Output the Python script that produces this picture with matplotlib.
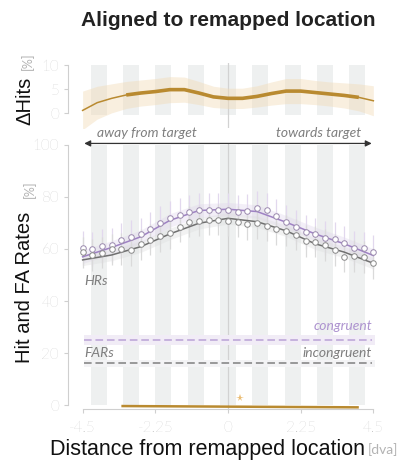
import matplotlib.pyplot as plt
import numpy as np

plt.rcParams['font.family'] = ['Liberation Sans', 'DejaVu Sans']

# sampled positions (dva) of the hit-rate estimates
pos = np.round(np.arange(-4.5, 4.51, 0.3), 2)
hr_cong = [60.3, 59.9, 61.3, 61.5, 63.5, 64.5, 65.6, 67.7, 70.1, 72.0, 73.1,
           74.4, 75.0, 75.0, 75.0, 75.0, 74.4, 74.7, 75.8, 75.0, 72.8, 70.5,
           68.6, 66.4, 65.6, 64.1, 63.8, 62.2, 60.5, 60.2, 58.9]
hr_incong = [58.7, 57.7, 58.6, 59.9, 60.0, 59.6, 61.8, 63.5, 65.0, 66.0, 68.6,
             70.5, 70.9, 71.2, 71.2, 70.9, 70.5, 69.5, 69.9, 69.0, 67.6, 67.1,
             65.5, 63.1, 62.8, 61.5, 59.6, 57.1, 57.3, 56.9, 54.5]
hr_err_cong = 6.5
hr_err_incong = 6.0

# smoothed fits
fit_pos = [-4.5, -3.6, -2.7, -1.8, -0.9, 0.0, 0.9, 1.8, 2.7, 3.6, 4.5]
fit_cong = [57.0, 60.6, 64.7, 71.0, 74.8, 75.3, 74.4, 70.3, 65.8, 62.0, 57.5]
fit_incong = [55.8, 57.7, 60.9, 65.8, 69.9, 71.8, 70.5, 67.0, 62.0, 58.8, 54.5]
fit_ci_cong = 2.6
fit_ci_incong = 2.2

# false alarm rates
far_cong, far_cong_ci = 25.0, 1.8
far_incong, far_incong_ci = 16.0, 1.4

# hit difference (congruent - incongruent)
dh_pos = np.round(np.arange(-4.5, 4.51, 0.45), 2)
dh = [0.6, 2.2, 3.1, 3.8, 4.2, 4.5, 4.9, 4.9, 4.2, 3.4, 3.1,
      3.1, 3.5, 4.1, 4.6, 4.6, 4.3, 4.0, 3.7, 3.3, 2.6]
dh_ci = [4.0, 3.4, 3.0, 2.8, 2.7, 2.7, 2.7, 2.6, 2.4, 2.2, 2.1,
         2.1, 2.2, 2.4, 2.6, 2.6, 2.5, 2.5, 2.6, 2.8, 3.1]
sig_range = (-3.25, 3.85)
far_diff_x = [-3.3, 4.05]
far_diff_y = [-0.4, -0.9]
star_x, star_y = 0.38, 2.8

xticks = [-4.5, -2.25, 0, 2.25, 4.5]
xticklabels = ['-4.5', '-2.25', '0', '2.25', '4.5']

purple = '#9f82c4'
purple_l = '#dfd3ec'
dgray = '#707070'
lgray = '#cfcfcf'
orange = '#b98a30'
stripe = '#eef0f0'
tickc = '#b3b3b3'
light_fam = ['Lato', 'Liberation Sans']

fig = plt.figure(figsize=(4.06, 4.61), dpi=100)
ax_top = fig.add_axes([0.1677, 0.7228, 0.7638, 0.1414])
ax = fig.add_axes([0.1677, 0.1130, 0.7638, 0.5753])
stripes = np.arange(-4, 5)

for a in (ax_top, ax):
    a.set_xlim(-4.95, 4.65)
    a.spines[['top', 'right']].set_visible(False)
    a.spines['left'].set_color(lgray)
    a.spines['left'].set_linewidth(0.8)
    a.tick_params(axis='y', colors=lgray, labelcolor=tickc, labelsize=11, length=3, width=0.8)
    a.axvline(0, color='#d2d2d2', lw=0.9, zorder=1)

# top panel: hit difference
ax_top.bar(stripes, 10.4, width=0.5, bottom=-0.4, color=stripe, zorder=0)
ax_top.set_ylim(-3, 10.5)
ax_top.spines['bottom'].set_visible(False)
ax_top.spines['left'].set_bounds(0, 10)
ax_top.set_yticks([0, 5, 10])
ax_top.set_xticks([])
dh = np.array(dh)
dh_ci = np.array(dh_ci)
ax_top.fill_between(dh_pos, dh - dh_ci, dh + dh_ci, color='#f2dcb8', alpha=0.45, lw=0, zorder=2)
ax_top.plot(dh_pos, dh, color=orange, lw=1.1, zorder=3)
sig = (dh_pos >= sig_range[0] - 0.3) & (dh_pos <= sig_range[1] + 0.3)
ax_top.plot(dh_pos[sig], dh[sig], color=orange, lw=2.6, solid_capstyle='butt', zorder=4)

# main panel: hit and false alarm rates
ax.bar(stripes, 100, width=0.5, bottom=0, color=stripe, zorder=0)
ax.set_ylim(-1.5, 100.5)
ax.spines['left'].set_bounds(0, 100)
ax.spines['bottom'].set_bounds(-4.5, 4.5)
ax.spines['bottom'].set_color(lgray)
ax.spines['bottom'].set_linewidth(0.8)
ax.set_yticks([0, 20, 40, 60, 80, 100])
ax.set_xticks(xticks)
ax.set_xticklabels(xticklabels)
ax.tick_params(axis='x', colors=lgray, labelcolor=tickc, labelsize=11, length=3, width=0.8, pad=6)
for lab in ax.get_xticklabels() + ax.get_yticklabels() + ax_top.get_yticklabels():
    lab.set_family(light_fam)
    lab.set_fontweight('light')

fc = np.array(fit_cong)
fi = np.array(fit_incong)
ax.fill_between(fit_pos, fc - fit_ci_cong, fc + fit_ci_cong, color=purple_l, alpha=0.35, lw=0, zorder=2)
ax.fill_between(fit_pos, fi - fit_ci_incong, fi + fit_ci_incong, color='#dcdcdc', alpha=0.35, lw=0, zorder=2)
ax.errorbar(pos, hr_cong, yerr=hr_err_cong, fmt='none', ecolor='#e2d8ee', elinewidth=0.9, zorder=3)
ax.errorbar(pos, hr_incong, yerr=hr_err_incong, fmt='none', ecolor='#dadada', elinewidth=0.9, zorder=3)
ax.plot(fit_pos, fit_cong, color=purple, lw=1.1, zorder=4)
ax.plot(fit_pos, fit_incong, color=dgray, lw=1.1, zorder=4)
ax.plot(pos, hr_cong, 'o', ms=4, mfc='white', mec='#9b8aae', mew=0.7, zorder=5)
ax.plot(pos, hr_incong, 'o', ms=4, mfc='white', mec='#8a8a8a', mew=0.7, zorder=5)

# false alarm levels
ax.fill_between([-4.45, 4.55], far_cong - far_cong_ci, far_cong + far_cong_ci, color='#f1ecf6', lw=0, zorder=2)
ax.fill_between([-4.45, 4.55], far_incong - far_incong_ci, far_incong + far_incong_ci, color='#f3f3f5', lw=0, zorder=2)
ax.plot([-4.45, 4.45], [far_cong] * 2, color='#b9a2d6', lw=1.1, dashes=(5, 2.5), zorder=3)
ax.plot([-4.45, 4.45], [far_incong] * 2, color='#808080', lw=1.1, dashes=(5, 2.5), zorder=3)
ax.plot(far_diff_x, far_diff_y, color=orange, lw=1.8, solid_capstyle='butt', zorder=4, clip_on=False)
ax.plot(star_x, star_y, marker='*', ms=5.5, color='#ebbd74', mew=0, zorder=4)

ital = dict(style='italic', fontsize=10, family=light_fam)
ax.text(-4.45, 47.7, 'HRs', color='#7f7f7f', ha='left', va='center', **ital)
ax.text(-4.45, 20.1, 'FARs', color='#7f7f7f', ha='left', va='center', **ital)
ax.text(4.45, 30.3, 'congruent', color='#ad93cf', ha='right', va='center', **ital)
ax.text(4.45, 20.1, 'incongruent', color='#7f7f7f', ha='right', va='center', **ital)
ax.text(-4.05, 104.5, 'away from target', color='#7f7f7f', ha='left', va='center', **ital)
ax.text(4.13, 104.5, 'towards target', color='#7f7f7f', ha='right', va='center', **ital)
ax.annotate('', xy=(-4.45, 100.6), xytext=(4.45, 100.6), annotation_clip=False,
            arrowprops=dict(arrowstyle='<|-|>', color='#333333', lw=0.9,
                            mutation_scale=9, shrinkA=0, shrinkB=0))

# titles and axis labels
fig.text(228 / 406, 1 - 20 / 461, 'Aligned to remapped location', ha='center', va='center',
         fontsize=15, fontweight='bold', color='#222222')
fig.text(25 / 406, 1 - 125 / 461, '\u0394Hits', rotation=90, ha='center', va='bottom',
         fontsize=14.5, color='#111111')
fig.text(27 / 406, 1 - 70 / 461, '[%]', rotation=90, ha='center', va='bottom',
         fontsize=9, color=tickc, family=light_fam)
fig.text(25 / 406, 1 - 363 / 461, 'Hit and FA Rates', rotation=90, ha='center', va='bottom',
         fontsize=14.5, color='#111111')
fig.text(29 / 406, 1 - 198 / 461, '[%]', rotation=90, ha='center', va='bottom',
         fontsize=9, color=tickc, family=light_fam)
fig.text(50 / 406, 1 - 449 / 461, 'Distance from remapped location', ha='left', va='center',
         fontsize=15.5, color='#111111')
fig.text(368 / 406, 1 - 450 / 461, '[dva]', ha='left', va='center', fontsize=10,
         color=tickc, family=light_fam)

fig.savefig('out.png', dpi=100)
